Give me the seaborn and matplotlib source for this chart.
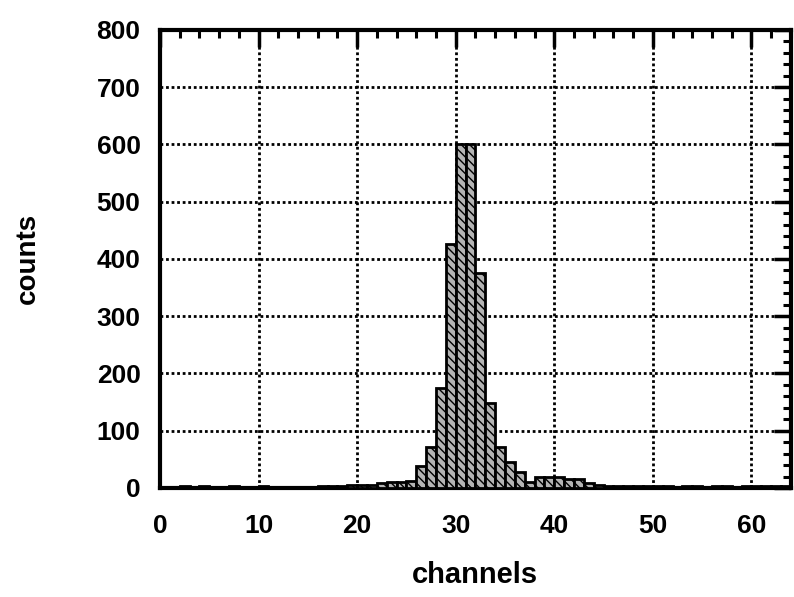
import numpy as np
import pandas as pd
import matplotlib
matplotlib.use("Agg")
import matplotlib.pyplot as plt
import seaborn as sns
from matplotlib.ticker import MultipleLocator

# histogram counts per channel (0..63)
channels = list(range(64))
counts = [2, 2, 3, 2, 3, 2, 2, 3, 2, 2,
          3, 2, 2, 2, 2, 2, 3, 3, 4, 5,
          5, 6, 8, 10, 10, 12, 39, 72, 175, 426,
          600, 600, 375, 149, 72, 45, 28, 11, 20, 20,
          20, 15, 15, 8, 5, 4, 3, 3, 3, 4,
          3, 3, 2, 3, 3, 2, 3, 3, 2, 3,
          3, 3, 4, 3]

x_ticks = [0, 10, 20, 30, 40, 50, 60]
y_ticks = [0, 100, 200, 300, 400, 500, 600, 700, 800]

df = pd.DataFrame({"channel": channels, "count": counts})

sns.set_style("white")
plt.rcParams["font.family"] = ["Liberation Sans", "DejaVu Sans"]
plt.rcParams["font.weight"] = "bold"
plt.rcParams["text.color"] = "black"
plt.rcParams["axes.labelcolor"] = "black"
plt.rcParams["axes.labelweight"] = "bold"
plt.rcParams["xtick.color"] = "black"
plt.rcParams["ytick.color"] = "black"
plt.rcParams["hatch.color"] = "black"
plt.rcParams["hatch.linewidth"] = 1.0

fig = plt.figure(figsize=(7.94, 5.97), dpi=100)
ax = fig.add_axes([0.2015, 0.1826, 0.7945, 0.7674])

sns.histplot(data=df, x="channel", weights="count", binwidth=1, binrange=(0, 64), ax=ax,
             color="#b4b4b4", edgecolor="black", linewidth=2, alpha=1,
             hatch="\\\\\\\\", zorder=3)

ax.set_xlim(0, 64)
ax.set_ylim(0, 800)
ax.set_xticks(x_ticks)
ax.set_yticks(y_ticks)
ax.xaxis.set_minor_locator(MultipleLocator(2))
ax.yaxis.set_minor_locator(MultipleLocator(20))

ax.grid(True, which="major", color="black", linestyle=(0, (1, 1.0)), linewidth=2, zorder=1)
ax.set_axisbelow(True)

ax.tick_params(which="both", direction="in", top=True, right=True)
ax.tick_params(which="major", length=12, width=2.5, labelsize=19)
ax.tick_params(which="minor", length=6, width=2.2)
ax.tick_params(axis="x", which="major", pad=19)
ax.tick_params(axis="y", which="major", pad=14)
for s in ax.spines.values():
    s.set_linewidth(3)
    s.set_color("black")

ax.set_xlabel("channels", fontsize=21, labelpad=16)
ax.set_ylabel("counts", fontsize=20, labelpad=40)

fig.savefig("out.png", dpi=100)
